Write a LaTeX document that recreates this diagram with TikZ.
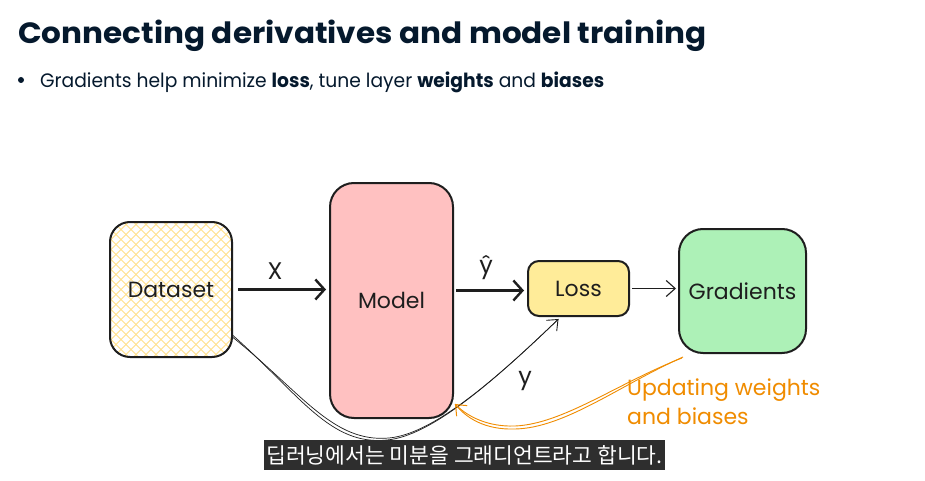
\documentclass[tikz,border=0pt]{standalone}
\usepackage{fontspec}
\setmainfont{Poppins}
\newfontfamily\handf{Poppins}
\newfontfamily\krf{Noto Sans CJK KR}
\usetikzlibrary{arrows.meta}
\definecolor{titlec}{HTML}{05192D}
\definecolor{inkc}{HTML}{1E1E1E}
\definecolor{hatchc}{HTML}{FFE08A}
\definecolor{modelc}{HTML}{FFC1C1}
\definecolor{lossc}{HTML}{FFEC99}
\definecolor{gradc}{HTML}{ADF1B7}
\definecolor{orangec}{HTML}{F08C00}
\definecolor{subc}{HTML}{2E2E2E}
\tikzset{
  box/.style={draw=inkc, line width=2pt, inner sep=0pt, font=\handf\fontsize{22}{25}\selectfont, text=inkc},
  hatchline/.style={draw=hatchc, line width=0.9pt},
  thickarrow/.style={draw=inkc, line width=2.4pt, -{Straight Barb[length=9pt,width=20pt,line width=2.4pt]}},
  thinarrow/.style={draw=inkc, line width=1.1pt, -{Straight Barb[length=9pt,width=16pt,line width=1.1pt]}},
  sketchline/.style={draw=inkc, line width=0.7pt},
  orangeline/.style={draw=orangec, line width=0.9pt},
  lbl/.style={inner sep=0pt, font=\handf\fontsize{24}{28}\selectfont, text=inkc},
}
\begin{document}
\begin{tikzpicture}[x=1pt,y=-1pt]
\useasboundingbox[fill=white] (0,0) rectangle (925,481);

% header
\node[anchor=base west, inner sep=0pt, text=titlec] (title) at (18,43.5) {\resizebox{688pt}{23.5pt}{\bfseries\fontsize{30}{36}\selectfont Connecting derivatives and model training}};
\node[circle, fill=titlec, inner sep=0pt, minimum size=6pt] (bullet) at (21,80) {};
\node[anchor=base west, inner sep=0pt, text=titlec] (btext) at (40,87.3) {\resizebox{564pt}{15.6pt}{\fontsize{17}{20}\selectfont Gradients help minimize \textbf{loss}, tune layer \textbf{weights} and \textbf{biases}}};

% boxes
\node[box, rounded corners=20pt, minimum width=122pt, minimum height=135pt,
  path picture={
    \foreach \i in {-200,-190,...,200} {
      \draw[hatchline] ([xshift=\i pt]path picture bounding box.center) ++(-110,-110) -- ++(220,220);
      \draw[hatchline] ([xshift=\i pt]path picture bounding box.center) ++(-110,110) -- ++(220,-220);
    }
  }] (ds) at (171,289.5) {Dataset};
\node[box, fill=modelc, rounded corners=24pt, minimum width=123pt, minimum height=235pt] (model) at (391.5,300.5) {Model};
\node[box, fill=lossc, rounded corners=11pt, minimum width=101pt, minimum height=55pt] (loss) at (578.5,288.5) {Loss};
\node[box, fill=gradc, rounded corners=24pt, minimum width=127pt, minimum height=124pt] (grad) at (742.5,291) {Gradients};

% straight arrows
\draw[thickarrow, shorten <=5pt, shorten >=3pt] (ds.east) -- (ds.east -| model.west);
\draw[thickarrow, shorten <=2pt, shorten >=3pt] ([yshift=-2pt]loss.west -| model.east) -- ([yshift=-2pt]loss.west);
\draw[thinarrow, shorten <=2pt, shorten >=2pt] (loss.east) -- (loss.east -| grad.west);

\node[lbl] (lx) at (275,271) {X};
\node[lbl] (lyhat) at (486,268) {ŷ};
\node[lbl] (ly) at (525,381) {y};

% dataset -> loss curve (sketchy double stroke)
\coordinate (dsout) at ([yshift=-46pt]ds.east);
\coordinate (lossin) at ([xshift=-20pt,yshift=-2pt]loss.south);
\draw[sketchline] (dsout) .. controls (300,395) and (330,446) .. (387,440) .. controls (430,436) and (490,385) .. (lossin);
\draw[sketchline, -{Straight Barb[length=9pt,width=15pt,line width=0.9pt]}] ([yshift=-2pt]dsout) .. controls (302,393) and (333,443) .. (389,438) .. controls (432,434) and (492,383) .. (lossin);

% gradients -> model orange curve
\coordinate (gout) at ([xshift=5pt,yshift=-3pt]grad.south west);
\coordinate (min) at ([xshift=1pt,yshift=15pt]model.south east);
\draw[orangeline] (gout) .. controls (620,385) and (565,428) .. (515,429) .. controls (485,430) and (466,418) .. (min);
\draw[orangeline, -{Straight Barb[length=9pt,width=15pt,line width=1pt]}] ([xshift=-1pt,yshift=-1pt]gout) .. controls (618,383) and (563,424) .. (515,426) .. controls (487,427) and (467,416) .. (min);
\node[anchor=north west, align=left, inner sep=0pt, text=orangec, font=\handf\fontsize{22}{29}\selectfont] (upd) at (627,379) {Updating weights\\and biases};

% subtitle
\node[fill=subc, text=white, inner xsep=2pt, inner ysep=0pt, minimum height=30pt, font=\krf\fontsize{21.5}{24}\selectfont] (sub) at (464.5,455) {딥러닝에서는 미분을 그래디언트라고 합니다.};
\end{tikzpicture}
\end{document}
